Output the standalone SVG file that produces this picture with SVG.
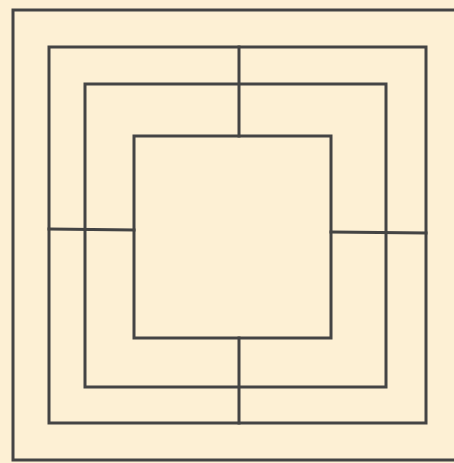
<svg xmlns="http://www.w3.org/2000/svg" width="454" height="463" viewBox="0 0 454 463">
<style>
.ln{fill:none;stroke:#444;stroke-width:3;stroke-linejoin:miter;stroke-linecap:square}
</style>
<rect x="0" y="0" width="454" height="463" fill="#fdf0d4"/>
<g id="outer-border">
<path class="ln" d="M458 10 H13 V460 H458"/>
</g>
<g id="square-outer">
<rect class="ln" x="49" y="47" width="377" height="376"/>
</g>
<g id="square-middle">
<rect class="ln" x="85" y="84" width="301" height="303"/>
</g>
<g id="square-inner">
<rect class="ln" x="134" y="136" width="197" height="202"/>
</g>
<g id="connectors">
<line class="ln" x1="239" y1="47" x2="239" y2="136"/>
<line class="ln" x1="239" y1="338" x2="239" y2="423"/>
<line class="ln" x1="49" y1="229" x2="134" y2="230"/>
<line class="ln" x1="331" y1="232" x2="426" y2="233"/>
</g>
</svg>
